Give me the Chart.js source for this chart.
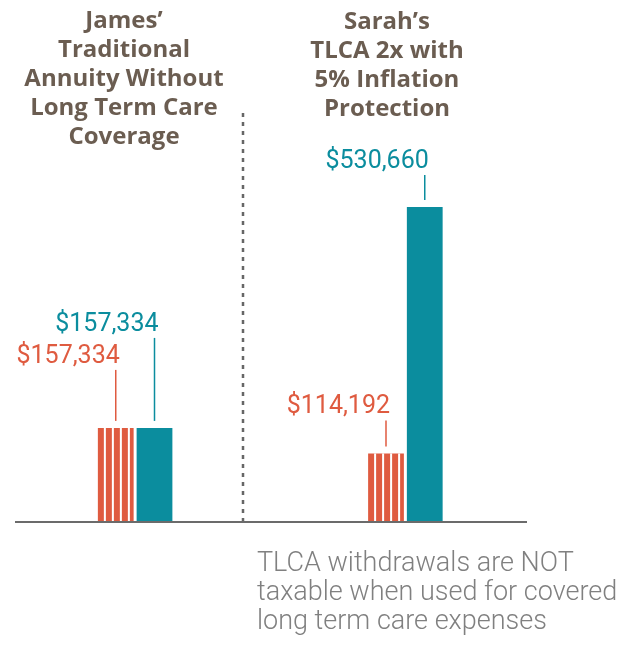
<!DOCTYPE html>
<html>
<head>
<meta charset="utf-8">
<script src="https://cdn.jsdelivr.net/npm/chart.js@4/dist/chart.umd.min.js"></script>
<style>
    body { margin: 0; background: #fff; }
    #wrap { position: relative; width: 635px; height: 647px; overflow: hidden; }
    #chart { position: absolute; left: 0; top: 0; }
    .col-title {
        position: absolute;
        top: 4px;
        width: 260px;
        text-align: center;
        font-family: 'Open Sans', sans-serif;
        font-weight: bold;
        font-size: 24px;
        line-height: 29px;
        color: #6b5d51;
    }
    #note {
        position: absolute;
        left: 257px;
        top: 548px;
        font-family: Roboto, sans-serif;
        font-weight: 300;
        font-size: 27px;
        line-height: 29px;
        color: #808080;
        white-space: nowrap;
    }
</style>
</head>
<body>
<div id="wrap">
    <canvas id="chart" width="635" height="647"></canvas>
    <div class="col-title" style="left: -6px;">James’<br>Traditional<br>Annuity Without<br>Long Term Care<br>Coverage</div>
    <div class="col-title" style="left: 257px; top: 5px;">Sarah’s<br>TLCA 2x with<br>5% Inflation<br>Protection</div>
    <div id="note">TLCA withdrawals are NOT<br>taxable when used for covered<br>long term care expenses</div>
</div>
<script>
// Data
const categories = ['James', 'Sarah'];
const withdrawals = [157334, 114192];   // orange, striped
const ltcBenefits = [157334, 530660];   // teal

// Colours
const ORANGE = '#df5b40';
const TEAL = '#0b8d9e';
const AXIS_GRAY = '#6b6b6b';

// Leader line lengths (px) per dataset / bar, so labels clear each other
const LEADER_LEN = [[51, 26], [83, 25]];

function money(v) {
    return '$' + v.toLocaleString('en-US');
}

const decorPlugin = {
    id: 'decor',
    beforeDatasetsDraw(chart) {
        const ctx = chart.ctx;
        const area = chart.chartArea;
        ctx.save();
        // dotted divider between the two columns
        ctx.strokeStyle = '#666';
        ctx.lineWidth = 2.5;
        ctx.setLineDash([4, 5]);
        ctx.beginPath();
        ctx.moveTo(243, 113);
        ctx.lineTo(243, area.bottom);
        ctx.stroke();
        ctx.restore();
    },
    afterDatasetsDraw(chart) {
        const ctx = chart.ctx;
        const area = chart.chartArea;
        ctx.save();

        // white stripes on the withdrawal bars
        chart.getDatasetMeta(0).data.forEach(bar => {
            const left = bar.x - bar.width / 2;
            ctx.fillStyle = '#fff';
            for (let i = 1; i <= 4; i++) {
                ctx.fillRect(left + 8 * i - 2, bar.y, 2, bar.base - bar.y);
            }
        });

        // leader lines + value labels
        chart.data.datasets.forEach((ds, di) => {
            chart.getDatasetMeta(di).data.forEach((bar, i) => {
                const bottom = bar.y - 7;
                const top = bottom - LEADER_LEN[di][i];
                ctx.strokeStyle = ds.backgroundColor;
                ctx.lineWidth = 1.5;
                ctx.beginPath();
                ctx.moveTo(bar.x, top);
                ctx.lineTo(bar.x, bottom);
                ctx.stroke();

                ctx.fillStyle = ds.backgroundColor;
                ctx.font = '25px Roboto';
                ctx.textAlign = 'right';
                ctx.textBaseline = 'alphabetic';
                ctx.fillText(money(ds.data[i]), bar.x + 4, top - 7);
            });
        });

        // baseline
        ctx.strokeStyle = AXIS_GRAY;
        ctx.lineWidth = 2;
        ctx.beginPath();
        ctx.moveTo(15, area.bottom + 1);
        ctx.lineTo(527, area.bottom + 1);
        ctx.stroke();
        ctx.restore();
    }
};

new Chart(document.getElementById('chart'), {
    type: 'bar',
    data: {
        labels: categories,
        datasets: [
            {
                label: 'Withdrawals',
                data: withdrawals,
                backgroundColor: ORANGE,
                borderWidth: 0,
                categoryPercentage: 0.2868,
                barPercentage: 0.923
            },
            {
                label: 'Long term care benefit',
                data: ltcBenefits,
                backgroundColor: TEAL,
                borderWidth: 0,
                categoryPercentage: 0.2868,
                barPercentage: 0.923
            }
        ]
    },
    options: {
        responsive: false,
        animation: false,
        layout: {
            padding: { left: -3.5, right: 94.5, top: 166, bottom: 126 }
        },
        plugins: {
            legend: { display: false },
            tooltip: { enabled: false }
        },
        scales: {
            x: { display: false },
            y: { display: false, min: 0, max: 600000 }
        }
    },
    plugins: [decorPlugin]
});
</script>
</body>
</html>
